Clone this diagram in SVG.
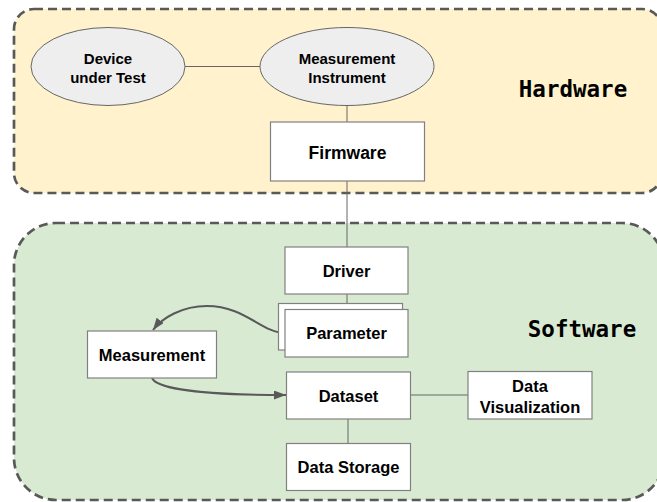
<svg xmlns="http://www.w3.org/2000/svg" width="657" height="502" viewBox="0 0 657 502">
<defs>
<style>
.zone{stroke:#595959;stroke-width:2.7;stroke-dasharray:9,5}
.ell{fill:#eeeeee;stroke:#666666;stroke-width:1}
.box{fill:#ffffff;stroke:#808080;stroke-width:1.2}
.lbl{font-family:"Liberation Sans",Arial,sans-serif;font-weight:bold;fill:#000;text-anchor:middle;dominant-baseline:central}
.mono{font-family:"DejaVu Sans Mono","Liberation Mono",monospace;font-weight:bold;font-size:22.5px;fill:#000;text-anchor:middle;dominant-baseline:central}
.ln{stroke:#666666;stroke-width:1;fill:none}
.arr{stroke:#595959;stroke-width:2;fill:none;marker-end:url(#ah)}
</style>
<marker id="ah" markerUnits="userSpaceOnUse" markerWidth="13" markerHeight="10" refX="12" refY="4.5" orient="auto">
<path d="M0,0 L12,4.5 L0,9 z" fill="#595959"/>
</marker>
</defs>
<g id="hardware">
<rect class="zone" x="14" y="9" width="648" height="184" rx="20" fill="#fff2cc"/>
<text class="mono" x="573" y="89">Hardware</text>
</g>
<g id="software">
<rect class="zone" x="14" y="223" width="650" height="277" rx="42" fill="#d9ead3"/>
<text class="mono" x="582" y="329">Software</text>
</g>
<g id="connectors">
<line class="ln" x1="185" y1="66.5" x2="260" y2="66.5"/>
<line class="ln" x1="347" y1="106" x2="347" y2="122"/>
<line class="ln" x1="347" y1="181" x2="347" y2="247"/>
<line class="ln" x1="347" y1="294" x2="347" y2="309"/>
<line class="ln" x1="410" y1="395" x2="468" y2="395"/>
<line class="ln" x1="348" y1="419" x2="348" y2="443"/>
<path class="arr" d="M285,333 C262,333 245,306 207,306 C182,306 162,318 153,330"/>
<path class="arr" d="M152,378 C158,392 230,395 286,395"/>
</g>
<g id="device">
<ellipse class="ell" cx="108" cy="66.5" rx="77" ry="39"/>
<text class="lbl" font-size="15" x="108" y="58">Device</text>
<text class="lbl" font-size="15" x="108" y="77">under Test</text>
</g>
<g id="instrument">
<ellipse class="ell" cx="347" cy="66.5" rx="87" ry="39"/>
<text class="lbl" font-size="15" x="347" y="58">Measurement</text>
<text class="lbl" font-size="15" x="347" y="77">Instrument</text>
</g>
<g id="firmware">
<rect class="box" x="270.5" y="122" width="154" height="59"/>
<text class="lbl" font-size="17.5" x="347.5" y="153">Firmware</text>
</g>
<g id="driver">
<rect class="box" x="285" y="247" width="123" height="47"/>
<text class="lbl" font-size="16.5" x="346.5" y="271">Driver</text>
</g>
<g id="parameter">
<rect class="box" x="278.5" y="303.5" width="124" height="46.5"/>
<rect class="box" x="285" y="309.5" width="123" height="47.5"/>
<text class="lbl" font-size="16.5" x="346.5" y="333">Parameter</text>
</g>
<g id="measurement">
<rect class="box" x="87.5" y="331" width="129" height="47"/>
<text class="lbl" font-size="16.5" x="152" y="355">Measurement</text>
</g>
<g id="dataset">
<rect class="box" x="286.5" y="372" width="124" height="47"/>
<text class="lbl" font-size="16.5" x="348.5" y="395.5">Dataset</text>
</g>
<g id="datavis">
<rect class="box" x="468" y="371.5" width="124" height="47.5"/>
<text class="lbl" font-size="16.5" x="530" y="386">Data</text>
<text class="lbl" font-size="16.5" x="530" y="406.5">Visualization</text>
</g>
<g id="datastorage">
<rect class="box" x="286.5" y="443.5" width="124" height="47"/>
<text class="lbl" font-size="16.5" x="348.5" y="467">Data Storage</text>
</g>
</svg>
